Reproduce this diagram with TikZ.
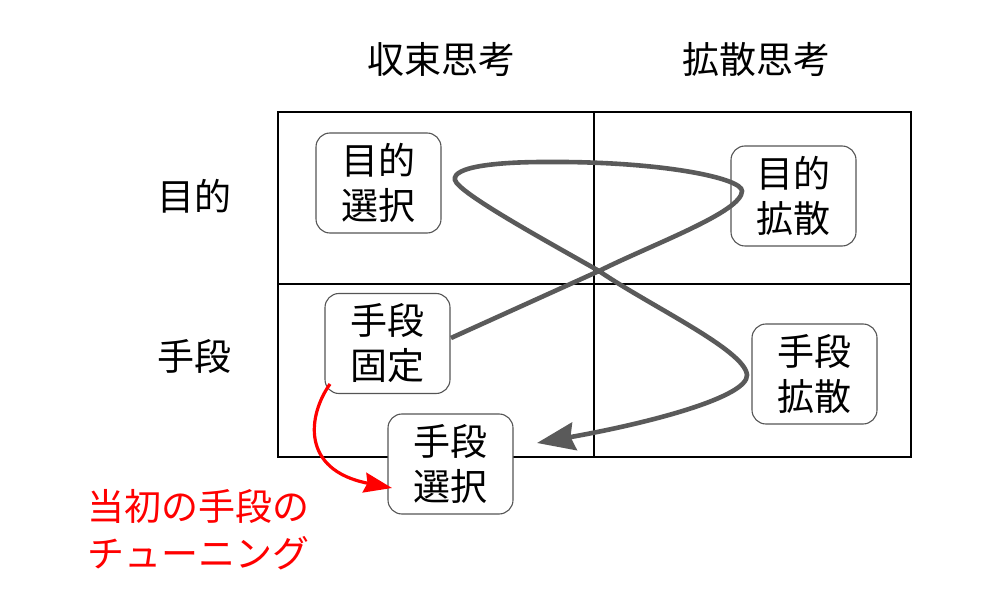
\documentclass[tikz,border=0pt]{standalone}
\usepackage{fontspec}
\setmainfont{Noto Sans CJK JP}
\usetikzlibrary{arrows.meta}
\definecolor{boxgray}{HTML}{555555}
\definecolor{curvegray}{HTML}{5A5A5A}
\begin{document}
\begin{tikzpicture}[x=1pt,y=-1pt,
  every node/.style={font=\fontsize{37}{45}\selectfont},
  cell/.style={draw=boxgray,line width=1.1pt,fill=white,rounded corners=14pt,
    minimum width=125pt,minimum height=100pt,inner sep=0pt,align=center},
  grid/.style={draw=black,line width=1.2pt},
  loopline/.style={draw=curvegray,line width=4.6pt,
    -{Stealth[length=38pt,width=28pt,inset=4pt]}},
  tune/.style={draw=red,line width=3.2pt,-{Stealth[length=28pt,width=20pt,inset=3pt]}}]
\useasboundingbox (0,0) rectangle (990,609);
% grid
\draw[grid] (278,112) rectangle (911,457);
\draw[grid] (594,112) -- (594,457);
\draw[grid] (278,284) -- (911,284);
% headers
\node (h1) at (441,59) {収束思考};
\node (h2) at (756,59) {拡散思考};
\node (r1) at (194,196) {目的};
\node (r2) at (194,356) {手段};
% cells
\node[cell] (ms) at (378.5,183) {目的\\選択};
\node[cell] (mk) at (793.5,196) {目的\\拡散};
\node[cell] (sk) at (387.5,343.5) {手段\\固定};
\node[cell] (sd) at (814.5,374) {手段\\拡散};
\node[cell] (ss) at (450.5,464) {手段\\選択};
% red label
\node[text=red,align=left,anchor=north west,font=\fontsize{37}{47}\selectfont] (lab) at (84,486) {当初の手段の\\チューニング};
% gray loop
\coordinate (g0) at (451,338);
\coordinate (gx) at (599,271);
\coordinate (gt) at (537,443);
\path[loopline] (g0) -- (gx)
  .. controls (653,244) and (742,212) .. (742,191)
  .. controls (742,178) and (660,161) .. (545,162)
  .. controls (495,162) and (452,167) .. (455,180)
  .. controls (458,193) and (550,243) .. (gx)
  .. controls (650,306) and (745,350) .. (747,375)
  .. controls (748,397) and (650,423) .. (gt);
% red arrow
\coordinate (r0) at (330,384);
\coordinate (rt) at (392,488);
\path[tune] (r0) .. controls (308,415) and (300,470) .. (rt);
\end{tikzpicture}
\end{document}
